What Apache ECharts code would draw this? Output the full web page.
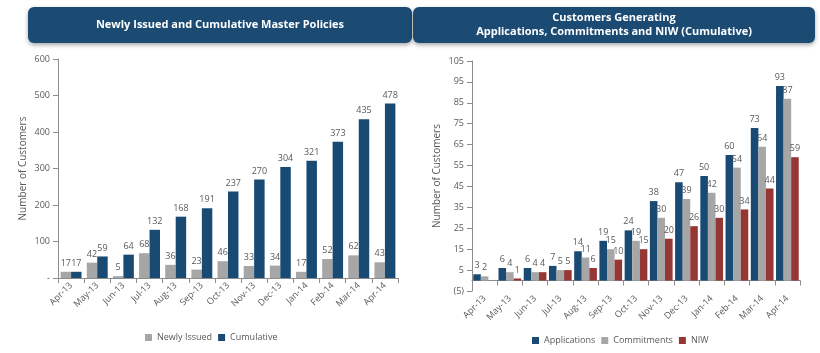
<!DOCTYPE html>
<html>
<head>
<meta charset="utf-8">
<script src="https://cdn.jsdelivr.net/npm/echarts@6/dist/echarts.min.js"></script>
<style>
  html, body { margin: 0; padding: 0; background: #fff; }
  #chart { width: 820px; height: 353px; }
</style>
</head>
<body>
<div id="chart"></div>
<script>
const months = ['Apr-13', 'May-13', 'Jun-13', 'Jul-13', 'Aug-13', 'Sep-13', 'Oct-13',
  'Nov-13', 'Dec-13', 'Jan-14', 'Feb-14', 'Mar-14', 'Apr-14']

// left chart
const newlyIssued = [17, 42, 5, 68, 36, 23, 46, 33, 34, 17, 52, 62, 43]
const cumulative = [17, 59, 64, 132, 168, 191, 237, 270, 304, 321, 373, 435, 478]

// right chart
const applications = [3, 6, 6, 7, 14, 19, 24, 38, 47, 50, 60, 73, 93]
const commitments = [2, 4, 4, 5, 11, 15, 19, 30, 39, 42, 54, 64, 87]
const niw = [0, 1, 4, 5, 6, 10, 15, 20, 26, 30, 34, 44, 59]

const titleLeft = 'Newly Issued and Cumulative Master Policies'
const titleRight = 'Customers Generating\nApplications, Commitments and NIW (Cumulative)'

const navy = '#184a74'
const grey = '#a6a6a6'
const red = '#953735'
const textColor = '#595959'
const fontFamily = 'Open Sans, Liberation Sans, sans-serif'

const chart = echarts.init(document.getElementById('chart'))

function titleBox(x, w, text, lineH) {
  return {
    type: 'group',
    children: [
      {
        type: 'rect',
        shape: { x: x, y: 7, width: w, height: 36, r: 6 },
        style: { fill: '#1b4a73', shadowBlur: 4, shadowOffsetY: 2, shadowColor: 'rgba(0,0,0,0.35)' }
      },
      {
        type: 'text',
        x: x + w / 2,
        y: 25,
        style: {
          text: text,
          fill: '#fff',
          font: 'bold 11px ' + fontFamily,
          align: 'center',
          verticalAlign: 'middle',
          lineHeight: lineH
        }
      }
    ]
  }
}

const axisLine = { lineStyle: { color: '#8c8c8c' } }
const catAxis = (gridIndex) => ({
  type: 'category',
  gridIndex: gridIndex,
  data: months,
  axisLine: axisLine,
  axisTick: { show: true, lineStyle: { color: '#8c8c8c' } },
  axisLabel: { rotate: 45, color: textColor, fontSize: 9, fontFamily: fontFamily, margin: 6 }
})

const barLabel = {
  show: true,
  position: 'top',
  color: textColor,
  fontSize: 9,
  fontFamily: fontFamily,
  distance: 4,
  formatter: p => (p.value === 0 ? '' : p.value)
}

const valueAxis = (gridIndex, min, max, interval, fmt) => ({
  type: 'value',
  gridIndex: gridIndex,
  min: min,
  max: max,
  interval: interval,
  name: 'Number of Customers',
  nameLocation: 'middle',
  nameGap: 30,
  nameTextStyle: { color: textColor, fontSize: 10, fontFamily: fontFamily },
  axisLine: { show: true, lineStyle: { color: '#8c8c8c' } },
  axisTick: { show: true, lineStyle: { color: '#8c8c8c' } },
  splitLine: { show: false },
  axisLabel: { color: textColor, fontSize: 9, fontFamily: fontFamily, formatter: fmt }
})

const legendStyle = {
  icon: 'rect',
  itemWidth: 7,
  itemHeight: 7,
  itemGap: 6,
  textStyle: { color: textColor, fontSize: 9, fontFamily: fontFamily }
}

const option = {
  animation: false,
  graphic: [
    titleBox(28, 384, titleLeft, 14),
    titleBox(413, 402, titleRight, 14)
  ],
  legend: [
    Object.assign({ data: ['Newly Issued', 'Cumulative'], left: 140, top: 328 }, legendStyle),
    Object.assign({ data: ['Applications', 'Commitments', 'NIW'], left: 527, top: 331 }, legendStyle)
  ],
  grid: [
    { left: 58, right: 422, top: 59, bottom: 75 },
    { left: 472, right: 20, top: 61, bottom: 62 }
  ],
  xAxis: [catAxis(0), catAxis(1)],
  yAxis: [
    valueAxis(0, 0, 600, 100, v => (v === 0 ? '-' : v)),
    valueAxis(1, -5, 105, 10, v => (v < 0 ? '(' + Math.abs(v) + ')' : v))
  ],
  series: [
    {
      name: 'Newly Issued',
      type: 'bar',
      xAxisIndex: 0,
      yAxisIndex: 0,
      data: newlyIssued,
      itemStyle: { color: grey },
      barGap: '0%',
      barCategoryGap: '20%',
      label: barLabel
    },
    {
      name: 'Cumulative',
      type: 'bar',
      xAxisIndex: 0,
      yAxisIndex: 0,
      data: cumulative,
      itemStyle: { color: navy },
      label: barLabel
    },
    {
      name: 'Applications',
      type: 'bar',
      xAxisIndex: 1,
      yAxisIndex: 1,
      data: applications,
      itemStyle: { color: navy },
      barGap: '0%',
      barCategoryGap: '10%',
      label: barLabel
    },
    {
      name: 'Commitments',
      type: 'bar',
      xAxisIndex: 1,
      yAxisIndex: 1,
      data: commitments,
      itemStyle: { color: grey },
      label: barLabel
    },
    {
      name: 'NIW',
      type: 'bar',
      xAxisIndex: 1,
      yAxisIndex: 1,
      data: niw,
      itemStyle: { color: red },
      label: barLabel
    }
  ]
}

chart.setOption(option)
</script>
</body>
</html>
